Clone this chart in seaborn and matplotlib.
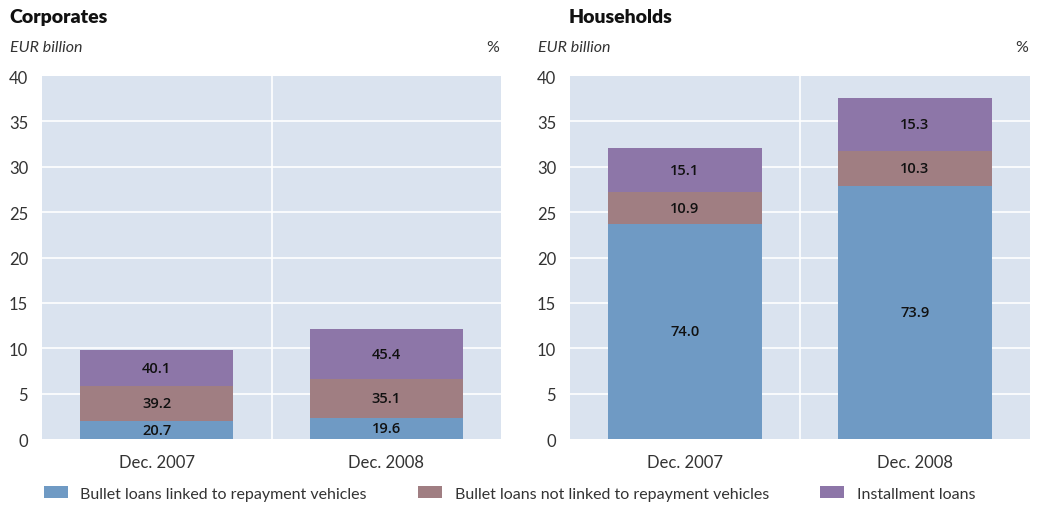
import matplotlib
matplotlib.use("Agg")
import matplotlib.pyplot as plt
import seaborn as sns
import pandas as pd
import numpy as np
from matplotlib.patches import Patch

sns.set_theme(style="white")
plt.rcParams['font.family'] = ['Lato', 'DejaVu Sans']

# ---- data ----
dates = ["Dec. 2007", "Dec. 2008"]
series = ["Bullet loans linked to repayment vehicles",
          "Bullet loans not linked to repayment vehicles",
          "Installment loans"]
# EUR billion segment heights
corp_linked = [2.03, 2.37]
corp_notlinked = [3.84, 4.25]
corp_install = [3.93, 5.49]
hh_linked = [23.7, 27.9]
hh_notlinked = [3.49, 3.89]
hh_install = [4.83, 5.78]
# percentage labels
corp_pct_linked = ["20.7", "19.6"]
corp_pct_notlinked = ["39.2", "35.1"]
corp_pct_install = ["40.1", "45.4"]
hh_pct_linked = ["74.0", "73.9"]
hh_pct_notlinked = ["10.9", "10.3"]
hh_pct_install = ["15.1", "15.3"]
yticks = [0, 5, 10, 15, 20, 25, 30, 35, 40]

colors = ["#6f9ac4", "#a07e82", "#8d76a8"]
bg = "#dae3ef"
text_col = "#333333"

fig = plt.figure(figsize=(10.42, 5.06), dpi=100)
axL = fig.add_axes([0.0403, 0.1304, 0.4407, 0.7174])
axR = fig.add_axes([0.5470, 0.1304, 0.4415, 0.7174])

def draw(ax, segs, pcts, title, title_x):
    ax.set_facecolor(bg)
    segs = [np.asarray(s, float) for s in segs]
    cum = np.cumsum(np.vstack(segs), axis=0)
    # draw top-most cumulative first
    for i in range(len(segs) - 1, -1, -1):
        df = pd.DataFrame({"date": dates, "val": cum[i]})
        sns.barplot(data=df, x="date", y="val", color=colors[i], ax=ax,
                    width=0.667, saturation=1, linewidth=0, zorder=3)
    for i in range(len(segs)):
        bottoms = cum[i] - segs[i]
        for j in range(len(dates)):
            ax.text(j, bottoms[j] + segs[i][j] / 2, pcts[i][j], ha="center",
                    va="center", fontsize=10.5, color="#111111", zorder=5,
                    weight="semibold", family=["Open Sans", "DejaVu Sans"])
    ax.set_ylim(0, 40)
    ax.set_xlim(-0.5, 1.5)
    ax.set_yticks(yticks)
    ax.set_yticklabels([str(t) for t in yticks])
    for t in yticks[1:-1]:
        ax.axhline(t, color="white", lw=1.2, zorder=1)
    ax.axvline(0.5, color="white", lw=1.2, zorder=1)
    for s in ax.spines.values():
        s.set_visible(False)
    ax.set_xlabel("")
    ax.set_ylabel("")
    ax.tick_params(axis="both", length=0, labelsize=12, colors=text_col)
    ax.tick_params(axis="y", pad=10)
    ax.tick_params(axis="x", pad=11)
    ax.grid(False)
    ax.text(-0.07, 1.08, "EUR billion", transform=ax.transAxes, fontsize=11.5,
            style="italic", color=text_col, ha="left", va="center")
    ax.text(0.995, 1.08, "%", transform=ax.transAxes, fontsize=11.5,
            color=text_col, ha="right", va="center")
    ax.text(title_x, 1.165, title, transform=ax.transAxes, fontsize=14,
            weight="heavy", color="#111111", ha="left", va="center")

draw(axL, [corp_linked, corp_notlinked, corp_install],
     [corp_pct_linked, corp_pct_notlinked, corp_pct_install], "Corporates", -0.07)
draw(axR, [hh_linked, hh_notlinked, hh_install],
     [hh_pct_linked, hh_pct_notlinked, hh_pct_install], "Households", -0.002)

handles = [Patch(facecolor=c, edgecolor="none") for c in colors]
fig.legend(handles, series, loc="lower left", bbox_to_anchor=(0.028, -0.02),
           ncol=3, frameon=False, fontsize=11.5, handlelength=1.5,
           handleheight=0.8, columnspacing=3.2, handletextpad=0.8,
           labelcolor=text_col)

fig.savefig("out.png", dpi=100)
